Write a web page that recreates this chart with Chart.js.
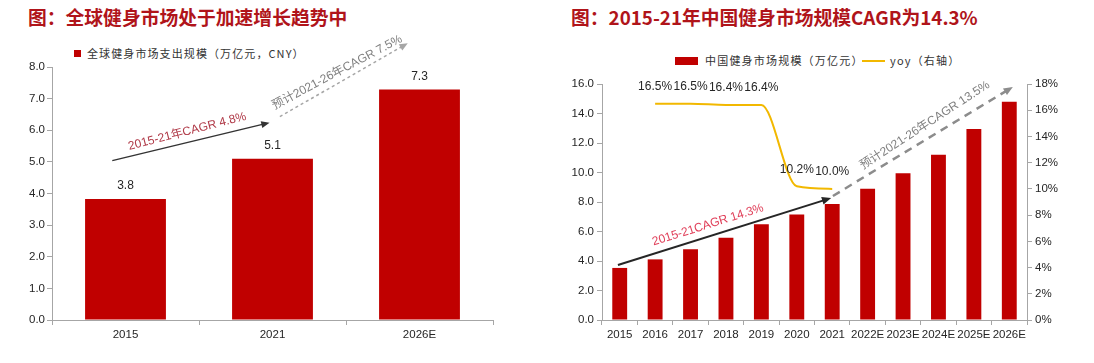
<!DOCTYPE html>
<html>
<head>
<meta charset="utf-8">
<script src="https://cdn.jsdelivr.net/npm/chart.js@4.4.0/dist/chart.umd.min.js"></script>
<style>
  body { margin: 0; background: #fff; width: 1094px; height: 363px; position: relative; overflow: hidden; }
  .title { position: absolute; top: 3px; font: bold 18.8px "Noto Sans CJK SC", sans-serif; color: #b0141a; white-space: nowrap; }
  .legend { position: absolute; font: 11px "Noto Sans CJK SC", sans-serif; color: #333; letter-spacing: 1.1px; white-space: nowrap; }
  .swatch { position: absolute; }
  #leftBox { position: absolute; left: 0; top: 0; width: 540px; height: 363px; }
  #rightBox { position: absolute; left: 545px; top: 0; width: 549px; height: 363px; }
</style>
</head>
<body>
<div class="title" style="left:28px">图：全球健身市场处于加速增长趋势中</div>
<div class="title" style="left:571px">图：2015-21年中国健身市场规模CAGR为14.3%</div>

<div class="swatch" style="left:74px;top:50px;width:7px;height:7px;background:#c00000"></div>
<div class="legend" style="left:87px;top:45px">全球健身市场支出规模（万亿元，CNY）</div>

<div class="swatch" style="left:675px;top:57px;width:23px;height:8px;background:#c00000"></div>
<div class="legend" style="left:705px;top:52px;letter-spacing:1.2px">中国健身市场规模（万亿元）</div>
<div class="swatch" style="left:862px;top:60px;width:23px;height:2px;background:#f2b800"></div>
<div class="legend" style="left:890px;top:52px;letter-spacing:1.2px">yoy（右轴）</div>

<div id="leftBox"><canvas id="globalChart"></canvas></div>
<div id="rightBox"><canvas id="chinaChart"></canvas></div>

<script>
// left chart data
const globalYears = ['2015', '2021', '2026E'];
const globalSpend = [3.83, 5.1, 7.29];
const globalSpendLabels = ['3.8', '5.1', '7.3'];

// right chart data
const chinaYears = ['2015', '2016', '2017', '2018', '2019', '2020', '2021', '2022E', '2023E', '2024E', '2025E', '2026E'];
const chinaMarket = [3.53, 4.11, 4.79, 5.57, 6.49, 7.15, 7.86, 8.9, 9.95, 11.2, 12.95, 14.8];
const chinaYoy = [null, 16.5, 16.5, 16.4, 16.4, 10.2, 10.0, null, null, null, null, null];

// arrows, given as [category index, value] pairs
const globalArrows = [
    { from: [-0.09, 5.04], to: [0.98, 6.24], color: '#333333', width: 1.5, dash: [], head: 9 },
    { from: [1.05, 6.43], to: [1.92, 8.75], color: '#a6a6a6', width: 1.5, dash: [3, 3], head: 9 }
];
const globalArrowTexts = [
    { text: '2015-21年CAGR 4.8%', at: [0.42, 5.96], angle: -14.5, color: '#b03a48' },
    { text: '预计2021-26年CAGR 7.5%', at: [1.44, 7.83], angle: -28, color: '#7f7f7f' }
];
const chinaArrows = [
    { from: [-0.05, 3.73], to: [5.97, 8.27], color: '#262626', width: 2, dash: [], head: 10 },
    { from: [6.02, 8.41], to: [11.1, 15.8], color: '#8c8c8c', width: 2.5, dash: [8, 6], head: 10 }
];
const chinaArrowTexts = [
    { text: '2015-21CAGR 14.3%', at: [2.49, 6.44], angle: -17.5, color: '#e0405a' },
    { text: '预计2021-26年CAGR 13.5%', at: [8.62, 13.2], angle: -33, color: '#7f7f7f' }
];

const tickFont = { family: '"Liberation Sans", Arial, sans-serif', size: 11.5 };
const textFont = '12px "Liberation Sans", "Noto Sans CJK SC", sans-serif';
const axisGray = '#a6a6a6';

// draws the CAGR arrows and their rotated captions
function annotationPlugin(arrows, texts) {
    return {
        id: 'cagrArrows',
        afterDraw(chart) {
            const ctx = chart.ctx;
            const xs = chart.scales.x, ys = chart.scales.y;
            arrows.forEach(a => {
                const x1 = xs.getPixelForValue(a.from[0]), y1 = ys.getPixelForValue(a.from[1]);
                const x2 = xs.getPixelForValue(a.to[0]), y2 = ys.getPixelForValue(a.to[1]);
                const ang = Math.atan2(y2 - y1, x2 - x1);
                ctx.save();
                ctx.strokeStyle = a.color;
                ctx.fillStyle = a.color;
                ctx.lineWidth = a.width;
                ctx.setLineDash(a.dash);
                ctx.beginPath();
                ctx.moveTo(x1, y1);
                ctx.lineTo(x2 - a.head * 0.7 * Math.cos(ang), y2 - a.head * 0.7 * Math.sin(ang));
                ctx.stroke();
                ctx.setLineDash([]);
                ctx.beginPath();
                ctx.moveTo(x2, y2);
                ctx.lineTo(x2 - a.head * Math.cos(ang - 0.4), y2 - a.head * Math.sin(ang - 0.4));
                ctx.lineTo(x2 - a.head * Math.cos(ang + 0.4), y2 - a.head * Math.sin(ang + 0.4));
                ctx.closePath();
                ctx.fill();
                ctx.restore();
            });
            texts.forEach(t => {
                ctx.save();
                ctx.translate(xs.getPixelForValue(t.at[0]), ys.getPixelForValue(t.at[1]));
                ctx.rotate(t.angle * Math.PI / 180);
                ctx.font = textFont;
                ctx.fillStyle = t.color;
                ctx.textAlign = 'center';
                ctx.textBaseline = 'middle';
                ctx.fillText(t.text, 0, 0);
                ctx.restore();
            });
        }
    };
}

// value labels above bars / line points
const valueLabels = {
    id: 'valueLabels',
    afterDatasetsDraw(chart) {
        const ctx = chart.ctx;
        ctx.save();
        ctx.font = textFont;
        ctx.fillStyle = '#262626';
        ctx.textAlign = 'center';
        ctx.textBaseline = 'middle';
        chart.data.datasets.forEach((ds, i) => {
            if (!ds.valueText) return;
            chart.getDatasetMeta(i).data.forEach((el, j) => {
                const txt = ds.valueText(j);
                if (txt == null) return;
                ctx.fillText(txt, el.x, el.y - ds.labelGap);
            });
        });
        ctx.restore();
    }
};

new Chart(document.getElementById('globalChart'), {
    type: 'bar',
    data: {
        labels: globalYears,
        datasets: [{
            label: '全球健身市场支出规模（万亿元，CNY）',
            data: globalSpend,
            backgroundColor: '#c00000',
            categoryPercentage: 1,
            barPercentage: 0.55,
            valueText: j => globalSpendLabels[j],
            labelGap: 13
        }]
    },
    options: {
        responsive: true,
        maintainAspectRatio: false,
        animation: false,
        layout: { padding: { top: 67, right: 47, left: 0, bottom: 0 } },
        plugins: { legend: { display: false }, tooltip: { enabled: false } },
        scales: {
            x: {
                grid: { drawOnChartArea: false, tickLength: 5, color: axisGray, offset: true },
                border: { color: axisGray },
                ticks: { color: '#262626', font: tickFont, padding: 3 },
                afterFit: s => { s.height = 43; }
            },
            y: {
                min: 0,
                max: 8,
                grid: { drawOnChartArea: false, tickLength: 5, color: axisGray },
                border: { color: axisGray },
                ticks: { stepSize: 1, color: '#262626', font: tickFont, padding: 2, callback: v => v.toFixed(1) },
                afterFit: s => { s.width = 52; }
            }
        }
    },
    plugins: [valueLabels, annotationPlugin(globalArrows, globalArrowTexts)]
});

new Chart(document.getElementById('chinaChart'), {
    type: 'bar',
    data: {
        labels: chinaYears,
        datasets: [{
            type: 'line',
            label: 'yoy（右轴）',
            data: chinaYoy,
            yAxisID: 'y1',
            borderColor: '#f2b800',
            borderWidth: 2,
            pointRadius: 0,
            cubicInterpolationMode: 'monotone',
            valueText: j => chinaYoy[j] == null ? null : chinaYoy[j].toFixed(1) + '%',
            labelGap: 17
        }, {
            label: '中国健身市场规模（万亿元）',
            data: chinaMarket,
            backgroundColor: '#c00000',
            categoryPercentage: 1,
            barPercentage: 0.42
        }]
    },
    options: {
        responsive: true,
        maintainAspectRatio: false,
        animation: false,
        layout: { padding: { top: 84, right: 0, left: 0, bottom: 0 } },
        plugins: { legend: { display: false }, tooltip: { enabled: false } },
        scales: {
            x: {
                grid: { drawOnChartArea: false, tickLength: 5, color: axisGray, offset: true },
                border: { color: axisGray },
                ticks: { color: '#262626', font: tickFont, padding: 3, autoSkip: false, maxRotation: 0 },
                afterFit: s => { s.height = 43; }
            },
            y: {
                min: 0,
                max: 16,
                grid: { drawOnChartArea: false, tickLength: 5, color: axisGray },
                border: { color: axisGray },
                ticks: { stepSize: 2, color: '#262626', font: tickFont, padding: 3, callback: v => v.toFixed(1) },
                afterFit: s => { s.width = 57; }
            },
            y1: {
                position: 'right',
                min: 0,
                max: 18,
                grid: { drawOnChartArea: false, tickLength: 5, color: axisGray },
                border: { color: axisGray },
                ticks: { stepSize: 2, color: '#262626', font: tickFont, padding: 3, callback: v => v + '%' },
                afterFit: s => { s.width = 67; }
            }
        }
    },
    plugins: [valueLabels, annotationPlugin(chinaArrows, chinaArrowTexts)]
});
</script>
</body>
</html>
